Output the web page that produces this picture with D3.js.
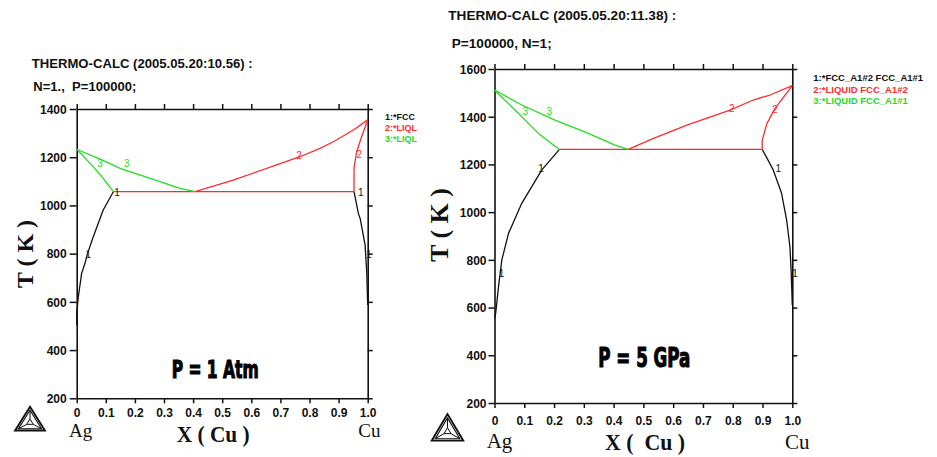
<!DOCTYPE html>
<html><head><meta charset="utf-8">
<script src="https://cdn.jsdelivr.net/npm/d3@7"></script>
<style>
body{margin:0;background:#fff}
svg{display:block;background:#fff}
.tick text{font-family:"Liberation Sans",Arial,sans-serif;font-weight:bold;font-size:12px;fill:#111}
.ttl{font-family:"Liberation Sans",Arial,sans-serif;font-weight:bold;font-size:12px;fill:#111;white-space:pre}
.leg{font-family:"Liberation Sans",Arial,sans-serif;font-weight:bold}
.lbl{font-family:"Liberation Sans",Arial,sans-serif;font-size:10px}
.serif{font-family:"Liberation Serif","Times New Roman",serif;fill:#111}
.big{font-family:"Liberation Sans Narrow","DejaVu Sans Condensed","Liberation Sans",sans-serif;font-weight:bold;fill:#000;stroke:#000;stroke-width:1.1}
</style></head><body>
<svg id="c" width="937" height="457"></svg>
<script>
// ---------- data ----------
const xTicks = [0,0.1,0.2,0.3,0.4,0.5,0.6,0.7,0.8,0.9,1.0];
const xTickLabels = ["0","0.1","0.2","0.3","0.4","0.5","0.6","0.7","0.8","0.9","1.0"];
const yTicksL = [200,400,600,800,1000,1200,1400];
const yTicksR = [200,400,600,800,1000,1200,1400,1600];

// P = 1 atm (Ag-Cu)
const liq3L = [[0,1233],[0.09,1187],[0.149,1154],[0.263,1108],[0.355,1071],[0.407,1057]];
const sol3L = [[0,1233],[0.057,1161],[0.091,1112],[0.126,1057]];
const liq2L = [[0.407,1057],[0.538,1105],[0.687,1168],[0.767,1202],[0.836,1237],[0.882,1264],[0.951,1313],[1.0,1355]];
const sol2L = [[0.953,1057],[0.953,1154],[0.962,1223],[0.979,1285],[1.0,1355]];
const eutL  = [[0.126,1057],[0.953,1057]];
const fccAgL = [[0.126,1057],[0.091,981],[0.057,870],[0.037,800],[0.0285,760],[0.017,718],[0.0055,621],[0,552],[0,504]];
const fccCuL = [[0.953,1057],[0.968,967],[0.974,946],[0.991,836],[0.9966,725],[1.0,587]];
const curveLabelsL = [[0.080,1172,"3","g"],[0.172,1172,"3","g"],[0.764,1209,"2","r"],[0.971,1212,"2","r"],
  [0.139,1052,"1","k"],[0.976,1052,"1","k"],[0.040,798,"1","k"],[1.004,798,"1","k"]];
const legendL = ["1:*FCC","2:*LIQL","3:*LIQL"];

// P = 5 GPa
const liq3R = [[0,1512],[0.0915,1449],[0.2035,1386],[0.315,1330],[0.405,1281],[0.449,1263]];
const sol3R = [[0,1512],[0.069,1428],[0.1475,1330],[0.218,1263]];
const liq2R = [[0.449,1263],[0.534,1309],[0.646,1365],[0.791,1428],[0.869,1470],[0.925,1491],[1.0,1530]];
const sol2R = [[0.899,1263],[0.899,1302],[0.915,1372],[0.942,1435],[1.0,1530]];
const eutR  = [[0.218,1263],[0.899,1263]];
const fccAgR = [[0.218,1263],[0.159,1177],[0.0915,1037],[0.047,911],[0.0245,799],[0.0134,687],[0.004,576],[0,555]];
const fccCuR = [[0.899,1263],[0.936,1177],[0.964,1079],[0.981,967],[0.992,855],[0.996,757],[1.0,610]];
const curveLabelsR = [[0.103,1421,"3","g"],[0.184,1421,"3","g"],[0.797,1435,"2","r"],[0.942,1431,"2","r"],
  [0.156,1184,"1","k"],[0.953,1184,"1","k"],[0.024,743,"1","k"],[1.009,743,"1","k"]];
const legendR = ["1:*FCC_A1#2 FCC_A1#1","2:*LIQUID FCC_A1#2","3:*LIQUID FCC_A1#1"];

const titlesL = ["THERMO-CALC (2005.05.20:10.56) :","N=1.,  P=100000;"];
const titlesR = ["THERMO-CALC (2005.05.20:11.38) :","P=100000, N=1;"];
const pressureL = "P = 1 Atm";
const pressureR = "P = 5 GPa";

// ---------- drawing ----------
const COL = {k:"#111", r:"#ff2b2b", g:"#22dd22"};
const svg = d3.select("#c");

const panels = [
  {
    x: d3.scaleLinear([0,1],[76.7,367.7]), y: d3.scaleLinear([200,1400],[398.3,109]), yTicks: yTicksL,
    series: [[fccAgL,"k"],[fccCuL,"k"],[eutL,"r"],[liq2L,"r"],[sol2L,"r"],[liq3L,"g"],[sol3L,"g"]],
    labels: curveLabelsL, legend: legendL, legX: 385, legY: [120,130.6,141.6], legFs: 9,
    titles: titlesL, tPos: [[31.7,67.8,221],[33.3,91,103]],
    press: pressureL, pPos: [171.7,378.3,87,25],
    yl: {x:25, y:254, len:68, fs:24}, xl: {x:176.7, y:441.7, len:73, fs:24, t:"X ( Cu )"},
    ag: [69,436.7], cu: [358.3,436.7], elFs: 19,
    xLblY: 417.3, logo: [15,406.7,30,24], ySize: 7, yPad: 3
  },
  {
    x: d3.scaleLinear([0,1],[494.5,792.3]), y: d3.scaleLinear([200,1600],[403,69]), yTicks: yTicksR,
    series: [[fccAgR,"k"],[fccCuR,"k"],[eutR,"r"],[liq2R,"r"],[sol2R,"r"],[liq3R,"g"],[sol3R,"g"]],
    labels: curveLabelsR, legend: legendR, legX: 813.3, legY: [80.8,92.8,103.5], legFs: 9.5,
    titles: titlesR, tPos: [[448.3,19.5,228],[451.7,47.8,100]],
    press: pressureR, pPos: [598.3,366.7,92,27],
    yl: {x:439, y:225, len:74, fs:26}, xl: {x:605, y:450, len:80, fs:24, t:"X (  Cu )"},
    ag: [486.7,448], cu: [785,449], elFs: 21,
    xLblY: 425, logo: [431.7,414,31.6,26.7], ySize: 6, yPad: 2
  }
];

function drawLogo(g, x0, y0, w, h){
  const cx = x0 + w/2, cy = y0 + h*0.66;
  const outer = [[cx,y0],[x0,y0+h],[x0+w,y0+h]];
  const scale = (pts,s) => pts.map(p=>[cx+(p[0]-cx)*s, cy+(p[1]-cy)*s]);
  const inner = scale(outer,0.78), core = scale(outer,0.22);
  const ln = d3.line();
  g.append("path").attr("d", ln(outer)+"Z").attr("fill","none").attr("stroke","#111").attr("stroke-width",1.8);
  g.append("path").attr("d", ln(inner)+"Z").attr("fill","none").attr("stroke","#111").attr("stroke-width",1.1);
  g.append("path").attr("d", ln(core)+"Z").attr("fill","none").attr("stroke","#111").attr("stroke-width",1);
  inner.forEach((p,i)=>g.append("line").attr("x1",core[i][0]).attr("y1",core[i][1]).attr("x2",p[0]).attr("y2",p[1])
    .attr("stroke","#111").attr("stroke-width",1));
}

panels.forEach(p => {
  const g = svg.append("g");
  const [x0,x1] = p.x.range(), [yb,yt] = p.y.range();
  const fmt = d => xTickLabels[xTicks.indexOf(d)];

  const ax = (sel) => sel.selectAll("path,line").attr("stroke","#111").attr("stroke-width",1.5);
  g.append("g").attr("transform",`translate(0,${yb})`)
    .call(d3.axisBottom(p.x).tickValues(xTicks).tickFormat(fmt).tickSize(5).tickSizeOuter(0).tickPadding(3))
    .call(ax).call(s=>s.selectAll("text").attr("dy",null).attr("y",p.xLblY-yb));
  g.append("g").attr("transform",`translate(0,${yt})`)
    .call(d3.axisTop(p.x).tickValues(xTicks).tickFormat("").tickSize(5).tickSizeOuter(0)).call(ax);
  g.append("g").attr("transform",`translate(${x0},0)`)
    .call(d3.axisLeft(p.y).tickValues(p.yTicks).tickFormat(d3.format("d")).tickSize(p.ySize).tickSizeOuter(0).tickPadding(p.yPad))
    .call(ax).call(s=>s.selectAll("text").attr("dy","0.36em"));
  g.append("g").attr("transform",`translate(${x1},0)`)
    .call(d3.axisRight(p.y).tickValues(p.yTicks).tickFormat("").tickSize(5).tickSizeOuter(0)).call(ax);
  g.selectAll(".domain").attr("stroke-width",1.6);

  const line = d3.line().x(d=>p.x(d[0])).y(d=>p.y(d[1]));
  p.series.forEach(([pts,c]) => {
    g.append("path").attr("d",line(pts)).attr("fill","none").attr("stroke",COL[c])
      .attr("stroke-width",1.3).attr("stroke-linejoin","round");
  });

  g.selectAll(".clbl").data(p.labels).join("text").attr("class","lbl")
    .attr("x",d=>p.x(d[0])).attr("y",d=>p.y(d[1])).attr("dy","0.35em").attr("text-anchor","middle")
    .attr("fill",d=>COL[d[3]]).text(d=>d[2]);

  g.selectAll(".legt").data(p.legend).join("text").attr("class","leg")
    .attr("x",p.legX).attr("y",(d,i)=>p.legY[i]).attr("font-size",p.legFs)
    .attr("fill",(d,i)=>[COL.k,COL.r,COL.g][i]).text(d=>d);

  p.titles.forEach((t,i)=>{
    g.append("text").attr("class","ttl").attr("x",p.tPos[i][0]).attr("y",p.tPos[i][1])
      .attr("textLength",p.tPos[i][2]).attr("lengthAdjust","spacingAndGlyphs").text(t);
  });

  g.append("text").attr("class","big").attr("x",p.pPos[0]).attr("y",p.pPos[1]).attr("font-size",p.pPos[3])
    .attr("textLength",p.pPos[2]).attr("lengthAdjust","spacingAndGlyphs").text(p.press);

  g.append("text").attr("class","serif").attr("font-weight","bold").attr("font-size",p.yl.fs)
    .attr("text-anchor","middle").attr("transform",`translate(${p.yl.x+p.yl.fs*0.34},${p.yl.y}) rotate(-90)`)
    .attr("textLength",p.yl.len).attr("lengthAdjust","spacingAndGlyphs").style("white-space","pre").text("T ( K )");
  g.append("text").attr("class","serif").attr("font-weight","bold").attr("font-size",p.xl.fs)
    .attr("x",p.xl.x).attr("y",p.xl.y).attr("textLength",p.xl.len).attr("lengthAdjust","spacingAndGlyphs")
    .style("white-space","pre").text(p.xl.t);
  g.append("text").attr("class","serif").attr("font-size",p.elFs).attr("x",p.ag[0]).attr("y",p.ag[1]).text("Ag");
  g.append("text").attr("class","serif").attr("font-size",p.elFs).attr("x",p.cu[0]).attr("y",p.cu[1]).text("Cu");

  drawLogo(g, ...p.logo);
});
</script>
</body></html>
